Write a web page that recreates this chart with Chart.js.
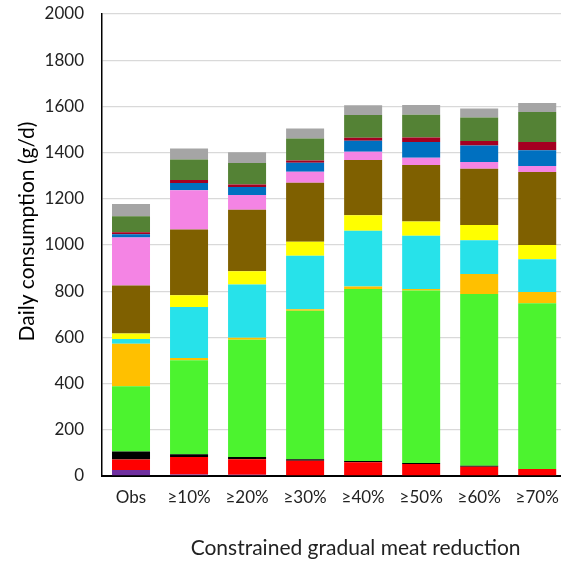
<!DOCTYPE html>
<html>
<head>
<meta charset="utf-8">
<script src="https://cdn.jsdelivr.net/npm/chart.js@4"></script>
<style>
  html, body { margin: 0; padding: 0; background: #fff; overflow: hidden; }
</style>
</head>
<body>
<canvas id="myChart" width="570" height="565"></canvas>
<script>
const labels = ["Obs", "≥10%", "≥20%", "≥30%", "≥40%", "≥50%", "≥60%", "≥70%"];

// stacked from bottom to top
const purple   = [26, 7, 5, 0, 0, 0, 0, 0];
const red      = [45, 75, 68, 66, 60, 52, 40, 30];
const black    = [35, 12, 9, 7, 5, 4, 4, 0];
const green    = [282, 407, 508, 642, 745, 747, 744, 718];
const orange   = [185, 10, 8, 7, 10, 6, 87, 48];
const cyan     = [20, 221, 231, 232, 242, 231, 146, 142];
const yellow   = [24, 51, 57, 60, 67, 62, 66, 62];
const brown    = [208, 284, 267, 256, 239, 244, 243, 316];
const pink     = [208, 170, 63, 47, 36, 32, 29, 26];
const blue     = [13, 31, 35, 39, 47, 68, 72, 68];
const darkRed  = [9, 13, 11, 10, 13, 19, 19, 36];
const darkGreen = [70, 89, 93, 95, 99, 99, 102, 130];
const grey     = [52, 48, 46, 43, 42, 42, 39, 39];

const yMin = 0, yMax = 2000, yStep = 200;

const series = [
    [purple, "#7030A0"],
    [red, "#FF0000"],
    [black, "#000000"],
    [green, "#4CF32F"],
    [orange, "#FFC000"],
    [cyan, "#27E2EA"],
    [yellow, "#FFFF00"],
    [brown, "#7F6000"],
    [pink, "#F484E4"],
    [blue, "#0070C0"],
    [darkRed, "#A50021"],
    [darkGreen, "#548235"],
    [grey, "#A5A5A5"]
];

const font = "Lato, 'Liberation Sans', sans-serif";

const ctx = document.getElementById("myChart").getContext("2d");

const myChart = new Chart(ctx, {
    type: "bar",
    data: {
        labels: labels,
        datasets: series.map(s => ({
            data: s[0],
            backgroundColor: s[1],
            borderWidth: 0,
            categoryPercentage: 1,
            barPercentage: 0.655
        }))
    },
    options: {
        responsive: false,
        animation: false,
        layout: { padding: { top: 14, right: 3, left: 0, bottom: 0 } },
        plugins: {
            legend: { display: false },
            tooltip: { enabled: false }
        },
        scales: {
            x: {
                stacked: true,
                grid: { display: false, drawTicks: false },
                border: { color: "#000", width: 2 },
                ticks: { color: "#222", font: { family: font, size: 17 }, padding: 11 },
                title: {
                    display: true,
                    // leading spaces nudge the title to the right like the original
                    text: "        Constrained gradual meat reduction",
                    color: "#222",
                    font: { family: font, size: 21 },
                    padding: { top: 0, bottom: 4 }
                },
                afterFit: scale => { scale.height = 89; }
            },
            y: {
                stacked: true,
                min: yMin,
                max: yMax,
                ticks: {
                    stepSize: yStep,
                    color: "#222",
                    font: { family: font, size: 17 },
                    padding: 18,
                    callback: v => String(v)
                },
                grid: { color: "#D9D9D9", lineWidth: 1.3, drawTicks: false },
                border: { color: "#000", width: 1.5 },
                title: {
                    display: true,
                    text: "     Daily consumption (g/d)",
                    color: "#000",
                    font: { family: font, size: 21 },
                    padding: { top: 15, bottom: 0 }
                },
                afterFit: scale => {
                    scale.width = 102;
                    // tick padding otherwise pushes the plot top down
                    scale.paddingTop = 0;
                    scale.paddingBottom = 0;
                }
            }
        }
    }
});
</script>
</body>
</html>
